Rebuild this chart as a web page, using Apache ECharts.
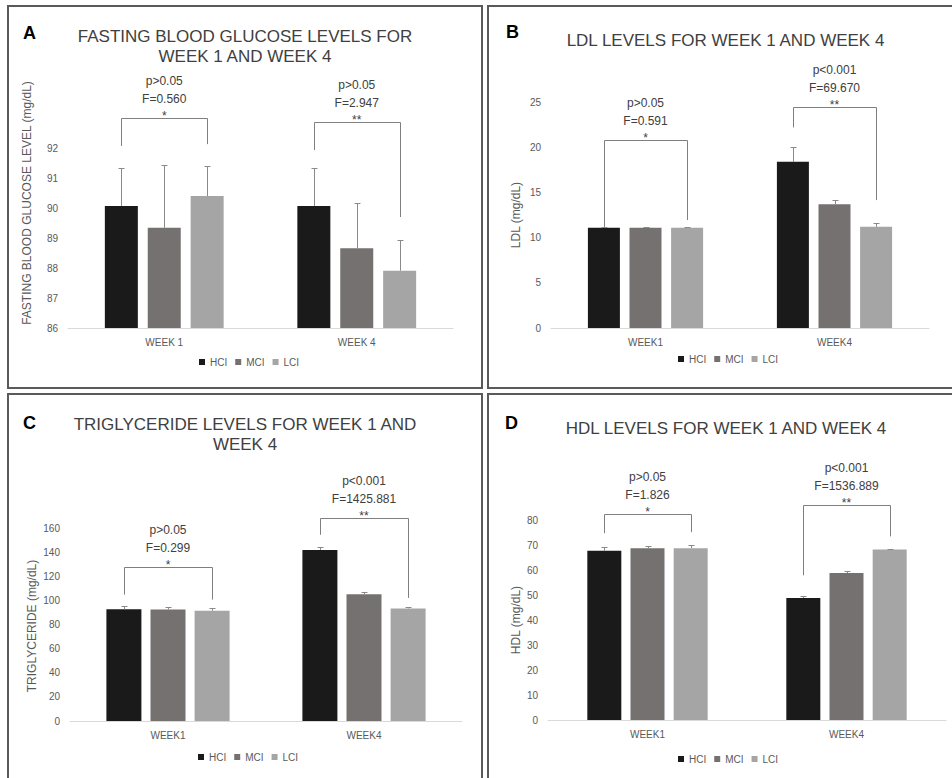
<!DOCTYPE html>
<html>
<head>
<meta charset="utf-8">
<title>Blood lipid and glucose levels</title>
<script src="https://cdn.jsdelivr.net/npm/echarts@6.0.0/dist/echarts.min.js"></script>
<style>
  html, body { margin: 0; padding: 0; background: #fff; }
  #chart { position: absolute; left: 0; top: 0; width: 952px; height: 778px; }
  .frame { position: absolute; border: 2px solid #5a5a5a; box-sizing: border-box; pointer-events: none; }
</style>
</head>
<body>
<div id="chart"></div>
<div class="frame" style="left:7px;top:5px;width:476px;height:384px"></div>
<div class="frame" style="left:487px;top:5px;width:480px;height:384px"></div>
<div class="frame" style="left:7px;top:393px;width:476px;height:400px"></div>
<div class="frame" style="left:487px;top:393px;width:480px;height:400px"></div>
<script>
  // groups, rows of every mean / error array follow this order
  var groups = ['HCI', 'MCI', 'LCI'];
  var weeksA = ['WEEK 1', 'WEEK 4'];
  var weeks = ['WEEK1', 'WEEK4'];

  // A: fasting blood glucose (mg/dL)
  var glucoseMean = [[90.07, 90.07], [89.34, 88.66], [90.40, 87.91]];
  var glucoseErr = [[1.26, 1.26], [2.09, 1.50], [1.01, 1.02]];
  var glucoseBracket = [[93.0, 92.07, 92.13], [92.87, 91.93, 89.7]]; // top, left end, right end
  var glucoseStats = [['p>0.05', 'F=0.560', '*'], ['p>0.05', 'F=2.947', '**']];

  // B: LDL (mg/dL)
  var ldlMean = [[11.1, 18.4], [11.1, 13.7], [11.1, 11.2]];
  var ldlErr = [[0.1, 1.65], [0.1, 0.45], [0.1, 0.38]];
  var ldlBracket = [[20.8, 11.17, 11.95], [24.48, 22.2, 14.16]];
  var ldlStats = [['p>0.05', 'F=0.591', '*'], ['p<0.001', 'F=69.670', '**']];

  // C: triglyceride (mg/dL)
  var tgMean = [[92.8, 141.9], [92.6, 105.3], [91.5, 93.5]];
  var tgErr = [[2.8, 2.6], [1.8, 2.0], [2.0, 1.3]];
  var tgBracket = [[127.8, 104.9, 100.8], [168.4, 154.6, 102.2]];
  var tgStats = [['p>0.05', 'F=0.299', '*'], ['p<0.001', 'F=1425.881', '**']];

  // D: HDL (mg/dL)
  var hdlMean = [[67.9, 49.0], [69.0, 59.0], [69.0, 68.4]];
  var hdlErr = [[1.5, 0.7], [1.0, 0.9], [1.3, 0.4]];
  var hdlBracket = [[82.6, 75.0, 75.4], [86.4, 58.1, 73.7]];
  var hdlStats = [['p>0.05', 'F=1.826', '*'], ['p<0.001', 'F=1536.889', '**']];

  var colors = ['#1a1a1a', '#767171', '#a5a5a5'];
  var font = '"Liberation Sans", Arial, sans-serif';
  var labelGrey = '#595959';

  var panels = [
    { letter: 'A', title: 'FASTING BLOOD GLUCOSE LEVELS FOR\nWEEK 1 AND WEEK 4', titleX: 245, titleY: 26.5, letterX: 23, letterY: 33,
      yName: 'FASTING BLOOD GLUCOSE LEVEL (mg/dL)', yNameX: 27, yNameY: 203,
      grid: { left: 68, top: 58, width: 385, height: 270 }, min: 86, max: 95, step: 1, shown: 92,
      barW: 33, gap: 0.3, cats: weeksA, mean: glucoseMean, err: glucoseErr, bracket: glucoseBracket, stats: glucoseStats,
      legend: { left: 199, top: 357 } },
    { letter: 'B', title: 'LDL LEVELS FOR WEEK 1 AND WEEK 4', titleX: 725.5, titleY: 30.5, letterX: 506, letterY: 31.5,
      yName: 'LDL (mg/dL)', yNameX: 516, yNameY: 215,
      grid: { left: 551, top: 57, width: 378, height: 271 }, min: 0, max: 30, step: 5, shown: 25,
      barW: 32, gap: 0.3, cats: weeks, mean: ldlMean, err: ldlErr, bracket: ldlBracket, stats: ldlStats,
      legend: { left: 678, top: 354 } },
    { letter: 'C', title: 'TRIGLYCERIDE LEVELS FOR WEEK 1 AND\nWEEK 4', titleX: 245, titleY: 414, letterX: 23, letterY: 423,
      yName: 'TRIGLYCERIDE (mg/dL)', yNameX: 32, yNameY: 626,
      grid: { left: 70, top: 456, width: 392, height: 265 }, min: 0, max: 220, step: 20, shown: 160,
      barW: 35, gap: 0.26, cats: weeks, mean: tgMean, err: tgErr, bracket: tgBracket, stats: tgStats,
      legend: { left: 198, top: 752 } },
    { letter: 'D', title: 'HDL LEVELS FOR WEEK 1 AND WEEK 4', titleX: 726, titleY: 418, letterX: 505, letterY: 423,
      yName: 'HDL (mg/dL)', yNameX: 516, yNameY: 620,
      grid: { left: 548, top: 446, width: 398, height: 274 }, min: 0, max: 110, step: 10, shown: 80,
      barW: 34, gap: 0.27, cats: weeks, mean: hdlMean, err: hdlErr, bracket: hdlBracket, stats: hdlStats,
      legend: { left: 678, top: 754 } }
  ];

  function errorBars(p) {
    var step = p.barW * (1 + p.gap);
    return function (params, api) {
      var c = api.value(0);
      var base = api.coord([c, api.value(2)]);
      var top = api.coord([c, api.value(2) + api.value(3)]);
      var x = Math.round(base[0] + (api.value(1) - 1) * step) + 0.5;
      var yb = base[1], yt = Math.round(top[1]) + 0.5;
      return {
        type: 'group',
        children: [
          { type: 'line', shape: { x1: x, y1: yb, x2: x, y2: yt }, style: { stroke: '#8a8a8a', lineWidth: 1 } },
          { type: 'line', shape: { x1: x - 3, y1: yt, x2: x + 3, y2: yt }, style: { stroke: '#8a8a8a', lineWidth: 1 } }
        ]
      };
    };
  }

  function brackets(p) {
    var step = p.barW * (1 + p.gap);
    return function (params, api) {
      var c = api.value(0);
      var t = api.coord([c, api.value(1)]);
      var yl = api.coord([c, api.value(2)])[1];
      var yr = api.coord([c, api.value(3)])[1];
      var xl = Math.round(t[0] - step) + 0.5, xr = Math.round(t[0] + step) + 0.5;
      var yt = Math.round(t[1]) + 0.5;
      var s = p.stats[params.dataIndex];
      function label(text, dy) {
        return { type: 'text', x: t[0], y: yt - dy,
          style: { text: text, fill: '#404040', font: '12px ' + font, align: 'center', verticalAlign: 'middle' } };
      }
      return {
        type: 'group',
        children: [
          { type: 'polyline', shape: { points: [[xl, yl], [xl, yt], [xr, yt], [xr, yr]] },
            style: { stroke: '#7f7f7f', lineWidth: 1, fill: null } },
          label(s[0], 38),
          label(s[1], 20),
          label(s[2], 3)
        ]
      };
    };
  }

  var option = {
    animation: false,
    backgroundColor: '#fff',
    textStyle: { fontFamily: font },
    title: [], legend: [], grid: [], xAxis: [], yAxis: [], series: [], graphic: []
  };

  panels.forEach(function (p, i) {
    option.title.push({
      text: p.title, left: p.titleX, top: p.titleY, textAlign: 'center', padding: 0,
      textStyle: { fontSize: 17, fontWeight: 'normal', color: '#404040', lineHeight: 20, fontFamily: font }
    });
    option.graphic.push({
      type: 'text', x: p.letterX, y: p.letterY,
      style: { text: p.letter, font: 'bold 18px ' + font, fill: '#000', align: 'left', verticalAlign: 'middle' }
    });
    option.graphic.push({
      type: 'text', x: p.yNameX, y: p.yNameY, rotation: Math.PI / 2,
      style: { text: p.yName, font: '12px ' + font, fill: labelGrey, align: 'center', verticalAlign: 'middle' }
    });
    option.legend.push({
      data: groups, left: p.legend.left, top: p.legend.top, padding: 0,
      icon: 'rect', itemWidth: 6, itemHeight: 6, itemGap: 8,
      textStyle: { fontSize: 10, color: labelGrey, fontFamily: font }
    });
    option.grid.push(p.grid);
    option.xAxis.push({
      type: 'category', gridIndex: i, data: p.cats,
      axisTick: { show: false },
      axisLine: { lineStyle: { color: '#d9d9d9', width: 1 } },
      axisLabel: { color: labelGrey, fontSize: 10, margin: 9, fontFamily: font }
    });
    option.yAxis.push({
      type: 'value', gridIndex: i, min: p.min, max: p.max, interval: p.step,
      axisLine: { show: false }, axisTick: { show: false }, splitLine: { show: false },
      axisLabel: {
        color: labelGrey, fontSize: 10, margin: 10, fontFamily: font,
        formatter: function (v) { return v > p.shown ? '' : String(v); }
      }
    });
    groups.forEach(function (g, k) {
      option.series.push({
        name: g, type: 'bar', xAxisIndex: i, yAxisIndex: i,
        data: p.mean[k], barWidth: p.barW, barGap: (p.gap * 100) + '%',
        itemStyle: { color: colors[k] }, silent: true
      });
    });
    var errData = [];
    p.cats.forEach(function (c, ci) {
      groups.forEach(function (g, k) {
        errData.push([ci, k, p.mean[k][ci], p.err[k][ci]]);
      });
    });
    option.series.push({
      type: 'custom', xAxisIndex: i, yAxisIndex: i, silent: true, z: 5,
      encode: { x: 0, y: 2 }, data: errData, renderItem: errorBars(p)
    });
    option.series.push({
      type: 'custom', xAxisIndex: i, yAxisIndex: i, silent: true, z: 5,
      encode: { x: 0, y: 1 },
      data: p.bracket.map(function (b, ci) { return [ci, b[0], b[1], b[2]]; }),
      renderItem: brackets(p)
    });
  });

  var chart = echarts.init(document.getElementById('chart'), null, { renderer: 'svg' });
  chart.setOption(option);
</script>
</body>
</html>
